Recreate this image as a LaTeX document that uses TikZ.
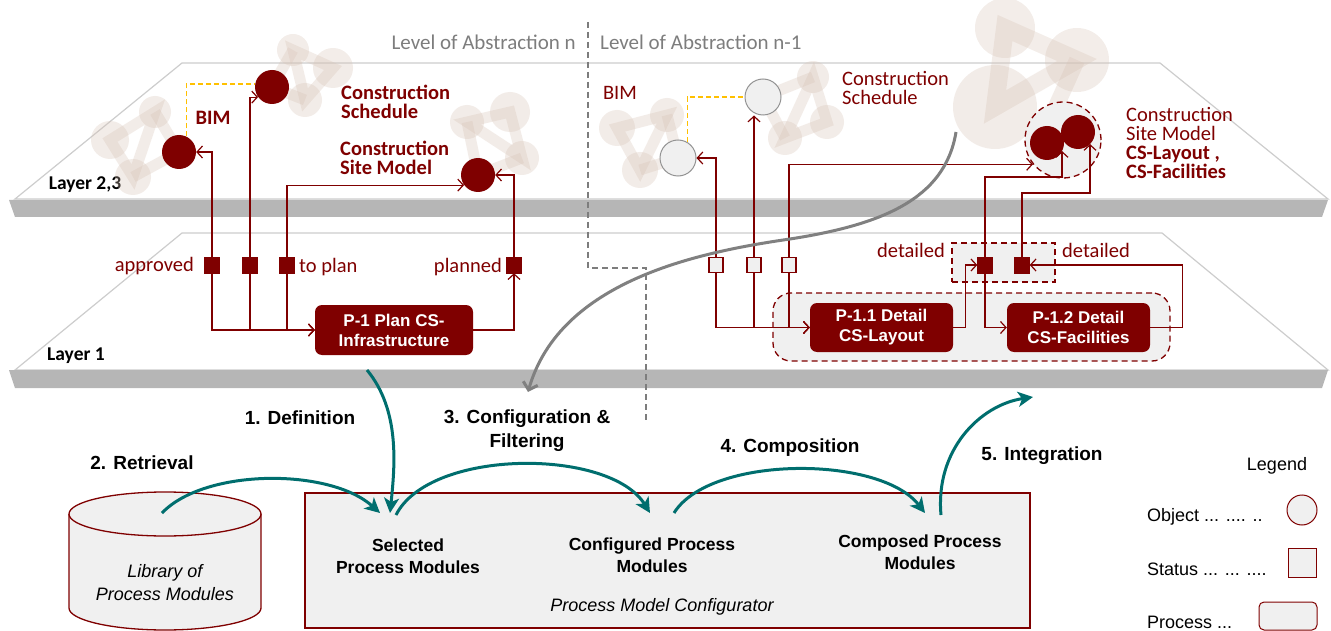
\documentclass[tikz,border=0pt]{standalone}
\usepackage{fontspec}
\setmainfont{Carlito}
\newfontfamily\arialf{Liberation Sans}
\usetikzlibrary{arrows.meta,calc}
\definecolor{drk}{RGB}{127,0,0}
\definecolor{teal2}{RGB}{0,110,110}
\definecolor{lgray}{RGB}{240,240,240}
\definecolor{bandc}{RGB}{182,182,182}
\definecolor{edgec}{RGB}{205,205,205}
\definecolor{molc}{RGB}{215,195,182}
\definecolor{ylw}{RGB}{255,192,0}
\definecolor{txtgray}{RGB}{125,125,125}
\begin{document}
\begin{tikzpicture}[x=1pt,y=-1pt,
  every node/.style={inner sep=0pt},
  calr/.style={font=\fontsize{20.5}{18.8}\selectfont, text=drk, align=left},
  calb/.style={font=\fontsize{20.5}{18.8}\selectfont\bfseries, text=drk, align=left},
  objdark/.style={circle, fill=drk, minimum size=34pt},
  objlight/.style={circle, fill=lgray, draw=gray!85, line width=1pt, minimum size=36pt},
  statf/.style={rectangle, fill=drk, draw=drk, minimum width=15pt, minimum height=16pt},
  stath/.style={rectangle, fill=lgray, draw=drk, line width=1.5pt, minimum width=14pt, minimum height=15pt},
  proc/.style={rectangle, rounded corners=7pt, fill=drk, text=white, font=\arialf\bfseries\fontsize{17}{20}\selectfont, align=center},
  arr/.style={draw=drk, line width=1.2pt, -{Straight Barb[length=5.5pt,width=12pt]}},
  tarr/.style={draw=teal2, line width=3pt, -{Stealth[length=15pt,width=15pt,inset=4pt]}},
  lab/.style={font=\arialf\bfseries\fontsize{19}{24}\selectfont, align=center},
  inbox/.style={font=\arialf\bfseries\fontsize{17.5}{22}\selectfont, align=center},
  legt/.style={font=\arialf\fontsize{18}{20}\selectfont},
  molball/.style={fill=molc, opacity=0.3},
  molbar/.style={draw=molc, opacity=0.3, line width=11pt},
  grp/.style={draw=drk, line width=1.3pt, dash pattern=on 6pt off 4pt, fill=lgray},
  slabedge/.style={draw=edgec, fill=white, line width=1.2pt}
]
\useasboundingbox (0,0) rectangle (1331,631);

% ---------- slabs ----------
\draw[slabedge] (182,63) -- (1160,63) -- (1328,199) -- (15,199) -- cycle;
\fill[bandc] (9,200) -- (1328,200) -- (1322,217) -- (15,217) -- cycle;
\draw[slabedge] (182,233) -- (1162,233) -- (1328,370) -- (15,370) -- cycle;
\fill[bandc] (9,370) -- (1328,370) -- (1322,388) -- (15,388) -- cycle;

\node[font=\fontsize{19.5}{20}\selectfont\bfseries] (lay23) at (85,185) {Layer 2,3};
\node[font=\fontsize{19.5}{20}\selectfont\bfseries] (lay1) at (76,356) {Layer 1};

% ---------- molecules ----------
% M1
\draw[molbar] (155,112) -- (110,140) -- (133,177) -- cycle;
\draw[molbar] (155,112) -- (179,152) -- (133,177);
\fill[molball] (155,112) circle (16); \fill[molball] (110,140) circle (19); \fill[molball] (133,177) circle (18);
% M2
\draw[molbar] (293,50) -- (333,68) -- (305,100) -- cycle;
\draw[molbar] (293,50) -- (272,87) -- (305,100);
\fill[molball] (293,50) circle (16); \fill[molball] (333,68) circle (20); \fill[molball] (305,100) circle (17);
% M3
\draw[molbar] (467,122) -- (510,112) -- (522,158) -- cycle;
\draw[molbar] (467,122) -- (478,175) -- (522,158);
\fill[molball] (467,122) circle (17); \fill[molball] (510,112) circle (20); \fill[molball] (522,158) circle (17);
% M4
\draw[molbar] (617,128) -- (667,115) -- (640,170) -- cycle;
\draw[molbar] (667,115) -- (678,158) -- (640,170);
\fill[molball] (617,128) circle (18); \fill[molball] (667,115) circle (17); \fill[molball] (640,170) circle (18);
% M5
\draw[molbar] (813,77) -- (827,122) -- (785,138) -- cycle;
\draw[molbar] (813,77) -- (763,97) -- (785,138);
\fill[molball] (813,77) circle (16); \fill[molball] (827,122) circle (17); \fill[molball] (785,138) circle (17);
% M6
\draw[molbar, line width=18pt] (1005,28) -- (1077,60) -- (995,107) -- cycle;
\draw[molbar, line width=16pt] (1077,60) -- (1050,120);
\fill[molball] (1005,28) circle (30); \fill[molball] (1077,60) circle (32); \fill[molball] (995,107) circle (42);

% ---------- abstraction divider ----------
\draw[txtgray, line width=1.5pt, dash pattern=on 6pt off 4pt] (588,22) -- (588,268) -- (646,268) -- (646,420);
\node[anchor=east, font=\fontsize{21}{20}\selectfont, text=txtgray] (lvn) at (576,42) {Level of Abstraction n};
\node[anchor=west, font=\fontsize{21}{20}\selectfont, text=txtgray] (lvm) at (600,42) {Level of Abstraction n-1};

% ---------- groups ----------
\node[grp, rounded corners=18pt, minimum width=397pt, minimum height=68pt] (grpP) at (971.5,327) {};
\node[grp, minimum width=103pt, minimum height=39pt] (grpS) at (1003.5,262.5) {};
\node[grp, circle, minimum size=76pt] (csmG) at (1063,140) {};

% ---------- objects ----------
\node[objdark] (bimN) at (179,152) {};
\node[objdark] (schN) at (272,87) {};
\node[objdark] (csmN) at (478,175) {};
\node[objlight] (bimM) at (678,158) {};
\node[objlight] (schM) at (763,97) {};
\node[objdark] (csm1) at (1047,143) {};
\node[objdark] (csm2) at (1078,132) {};

\node[calb] (tbimN) at (213,118) {BIM};
\node[calb, anchor=west] (tschN) at (341,102) {Construction\\Schedule};
\node[calb, anchor=west] (tcsmN) at (340,158) {Construction\\Site Model};
\node[calr] (tbimM) at (620,93) {BIM};
\node[calr, anchor=west] (tschM) at (842,88) {Construction\\Schedule};
\node[calr, anchor=west] (tcsmM) at (1126,143) {Construction\\Site Model\\\textbf{CS-Layout ,}\\\textbf{CS-Facilities}};

% ---------- status ----------
\node[statf] (s1) at (212,265) {};
\node[statf] (s2) at (250,265) {};
\node[statf] (s3) at (287,265) {};
\node[statf] (s4) at (514,265) {};
\node[stath] (h1) at (716,265) {};
\node[stath] (h2) at (754,265) {};
\node[stath] (h3) at (789,265) {};
\node[statf] (d1) at (985,265) {};
\node[statf] (d2) at (1022,265) {};

\node[calr, anchor=east] (tapp) at (194,266) {approved};
\node[calr, anchor=west] (tplan) at (299,267) {to plan};
\node[calr, anchor=east] (tpld) at (502,267) {planned};
\node[calr, anchor=east] (tdet1) at (945,250) {detailed};
\node[calr, anchor=west] (tdet2) at (1062,250) {detailed};

% ---------- processes ----------
\node[proc, minimum width=158pt, minimum height=50pt] (p1) at (394,330) {P-1 Plan CS-\\Infrastructure};
\node[proc, minimum width=143pt, minimum height=49pt] (p11) at (881.5,327.5) {P-1.1 Detail\\CS-Layout};
\node[proc, minimum width=143pt, minimum height=49pt] (p12) at (1078.5,327.5) {P-1.2 Detail\\CS-Facilities};

% ---------- connectors level n ----------
\draw[ylw, line width=1.3pt, dash pattern=on 5pt off 3pt] (bimN.65) |- (schN.170);
\draw[arr] (s1.north) |- (bimN.east);
\draw[arr] (s2.north) |- (schN.216);
\draw[arr] (s3.north) |- (csmN.216);
\draw[arr] (s4.north) |- (csmN.east);
\draw[arr] (s1.south) |- (p1.west);
\draw[arr] (s2.south) |- (p1.west);
\draw[arr] (s3.south) |- (p1.west);
\draw[arr] (p1.east) -| (s4.south);

% ---------- connectors level n-1 ----------
\draw[ylw, line width=1.3pt, dash pattern=on 5pt off 3pt] (bimM.60) |- (schM.west);
\draw[arr] (h1.north) |- (bimM.east);
\draw[arr] (h2.north) -- (h2.north |- schM.south);
\draw[arr] (h3.north) |- (csmG.219);
\draw[arr] (d1.north) |- ($(csm1.center)+(15,34)$) -- ($(csm1.center)+(15,8)$);
\draw[arr] (d2.north) |- ($(csm2.center)+(12,61)$) -- ($(csm2.center)+(12,12)$);
\draw[arr] (h1.south) |- (p11.west);
\draw[arr] (h2.south) |- (p11.west);
\draw[arr] (h3.south) |- (p11.west);
\draw[arr] (p11.east) -- ++(12,0) |- (d1.west);
\draw[arr] (d1.south) |- (p12.west);
\draw[arr] (p12.east) -- ++(32,0) |- (d2.east);

% ---------- gray curve ----------
\coordinate (gstart) at (956,132);
\coordinate (gend) at (528,392);
\draw[gray, line width=3pt, -{Straight Barb[length=7pt,width=15pt]}] (gstart) .. controls (945,200) and (880,225) .. (790,239) .. controls (700,252) and (560,280) .. (gend);

% ---------- bottom: library ----------
\fill[lgray] (69,514) rectangle (261,608);
\fill[lgray] (69,608) .. controls (69,620.1) and (112,630) .. (165,630) .. controls (218,630) and (261,620.1) .. (261,608) -- cycle;
\draw[drk, line width=1.3pt] (69,514) -- (69,608) .. controls (69,620.1) and (112,630) .. (165,630) .. controls (218,630) and (261,620.1) .. (261,608) -- (261,514);
\draw[drk, line width=1.3pt, fill=lgray] (165,514) ellipse [x radius=96, y radius=22];
\node[font=\arialf\itshape\fontsize{18}{23}\selectfont, align=center] (lib) at (165,583) {Library of\\Process Modules};

% ---------- configurator ----------
\node[draw=drk, fill=lgray, line width=1.8pt, minimum width=725pt, minimum height=135pt] (conf) at (667.5,560.5) {};
\node[inbox] (sel) at (408,556) {Selected\\Process Modules};
\node[inbox] (cfg) at (652,555) {Configured Process\\Modules};
\node[inbox] (cmp) at (920,552) {Composed Process\\Modules};
\node[font=\arialf\itshape\fontsize{18}{20}\selectfont] (pmc) at (662,607) {Process Model Configurator};

% ---------- teal arrows ----------
\coordinate (libtop) at (162,513);
\coordinate (selin) at (380,513);
\coordinate (selin2) at (390,513);
\coordinate (selout) at (396,515);
\coordinate (cfgin) at (650,513);
\coordinate (cfgout) at (674,513);
\coordinate (cmpin) at (925,513);
\coordinate (cmpout) at (941,515);
\coordinate (integ) at (1033,397);
\coordinate (defst) at (367,370);
\draw[tarr] (defst) .. controls (400,410) and (395,465) .. (selin2);
\draw[tarr] (libtop) .. controls (205,468) and (330,468) .. (selin);
\draw[tarr] (selout) .. controls (430,448) and (610,448) .. (cfgin);
\draw[tarr] (cfgout) .. controls (710,455) and (880,455) .. (cmpin);
\draw[tarr] (cmpout) .. controls (935,450) and (980,405) .. (integ);

\node[lab] (l1) at (300,418) {1. Definition};
\node[lab] (l2) at (142,463) {2. Retrieval};
\node[lab] (l3) at (527,431) {3. Configuration \&\\Filtering};
\node[lab] (l4) at (790,448) {4. Composition};
\node[lab] (l5) at (1042,456) {5. Integration};

% ---------- legend ----------
\node[legt] (leg) at (1277,466) {Legend};
\node[legt, anchor=west] (lobj) at (1147,517) {Object ... .... ..};
\node[circle, fill=lgray, draw=drk, line width=1pt, minimum size=30pt] (lgc) at (1302,510) {};
\node[legt, anchor=west] (lsta) at (1147,569) {Status ... ... ....};
\node[rectangle, fill=lgray, draw=drk, line width=1pt, minimum width=28pt, minimum height=29pt] (lgs) at (1302,563) {};
\node[legt, anchor=west] (lpro) at (1147,622) {Process ...};
\node[rectangle, rounded corners=5pt, fill=lgray, draw=drk, line width=1pt, minimum width=58pt, minimum height=28pt] (lgp) at (1288,616) {};
\end{tikzpicture}
\end{document}
